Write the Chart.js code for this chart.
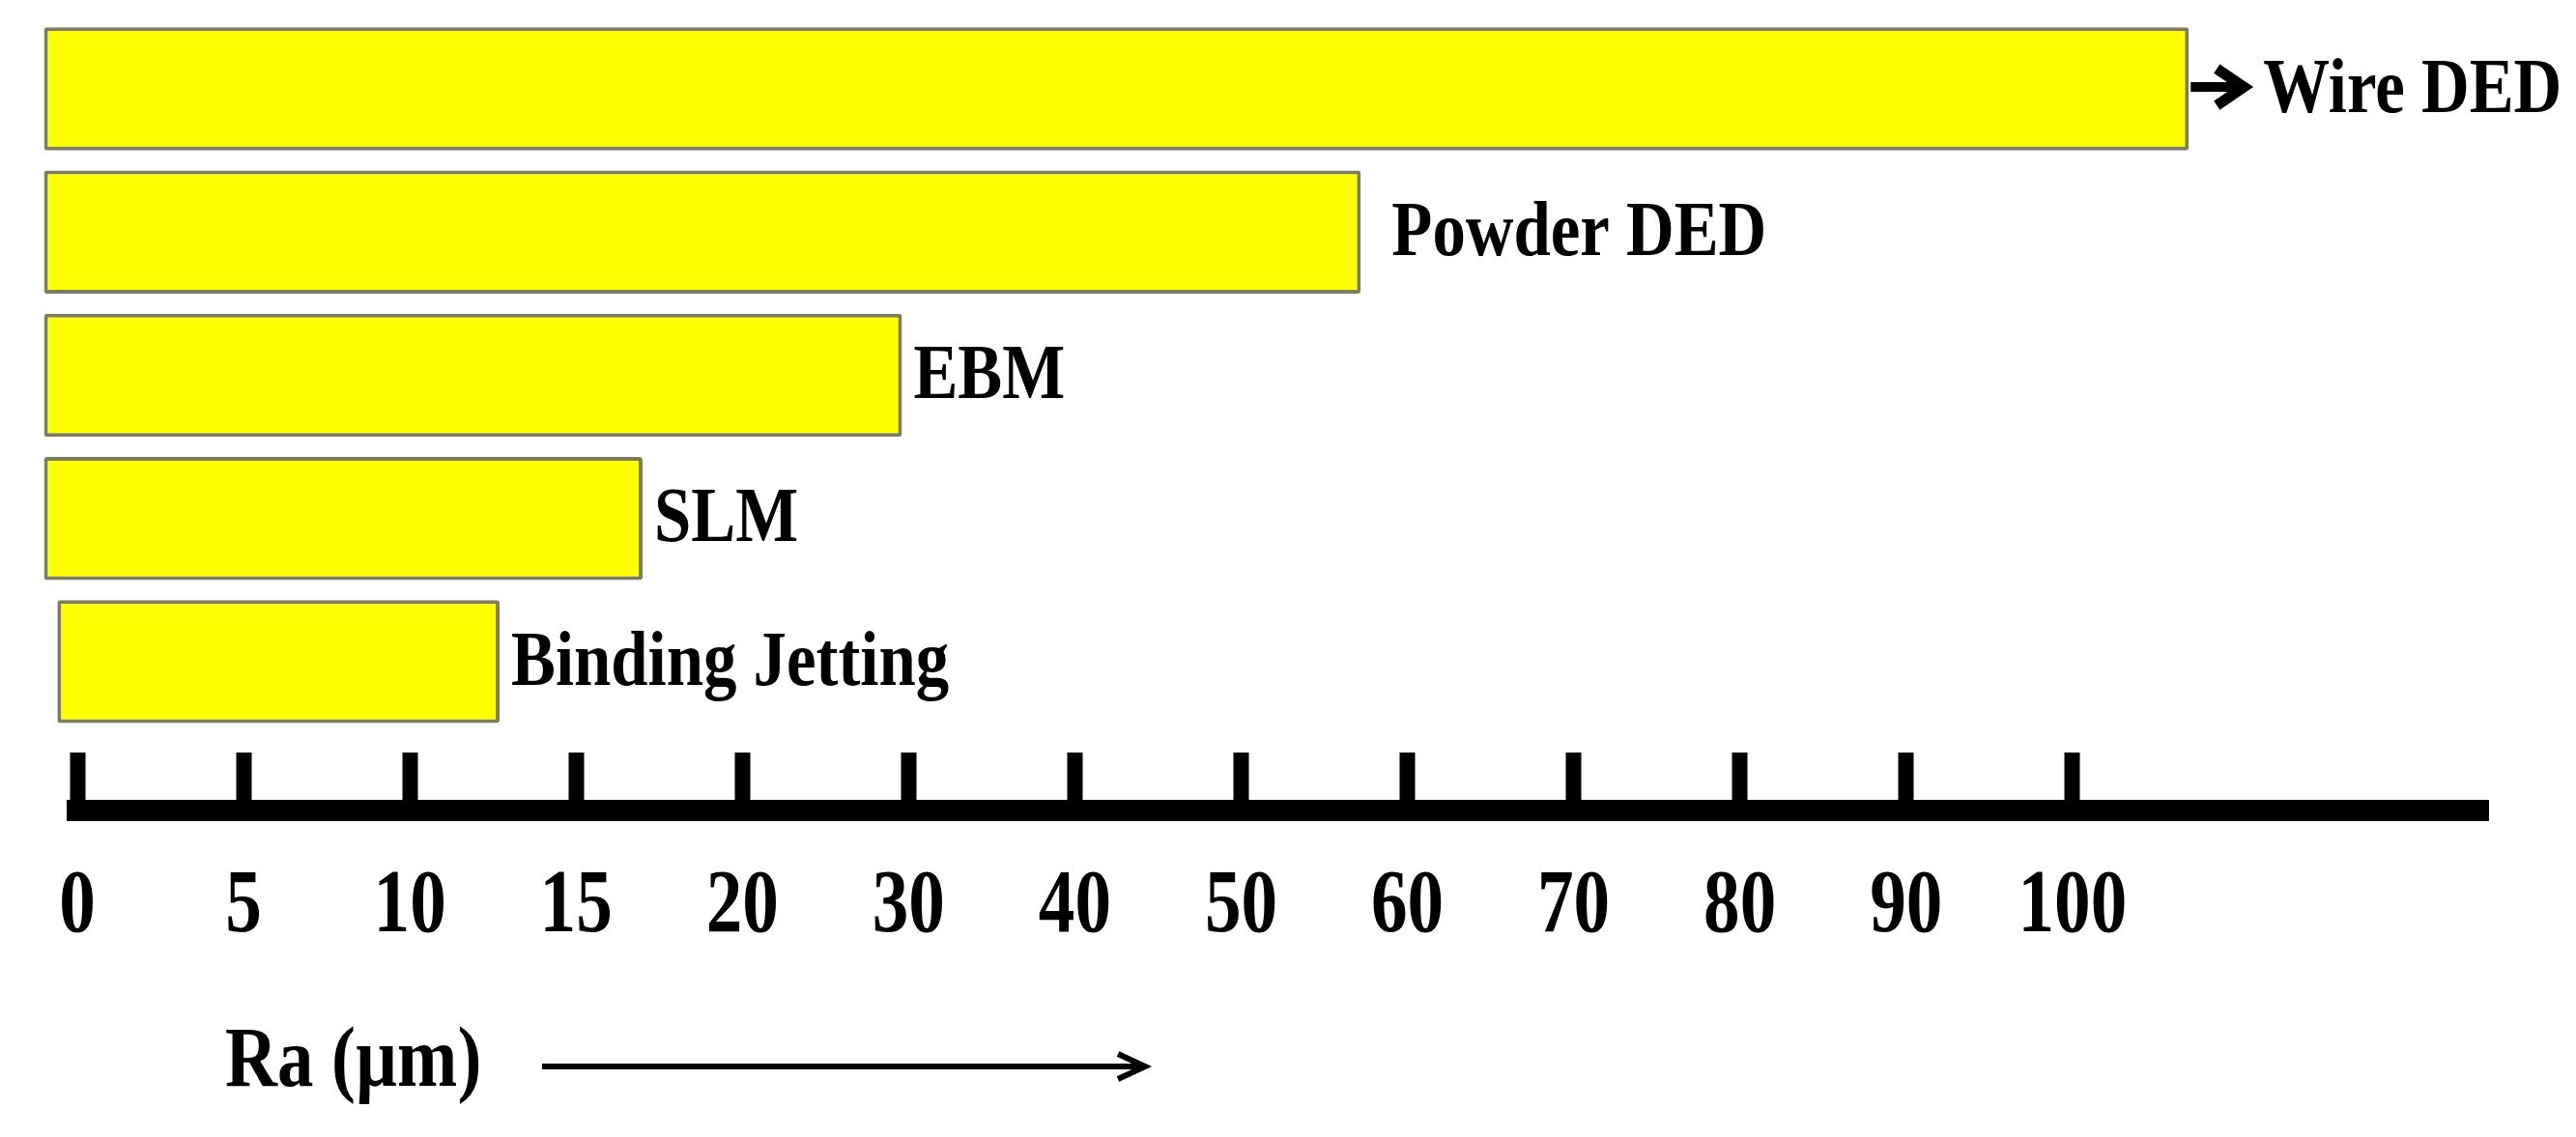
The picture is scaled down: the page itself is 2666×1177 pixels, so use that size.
<!DOCTYPE html>
<html>
<head>
<meta charset="utf-8">
<title>Surface roughness Ra by AM process</title>
<script src="https://cdn.jsdelivr.net/npm/chart.js@4.4.1/dist/chart.umd.min.js"></script>
<style>
  html, body { margin: 0; padding: 0; background: #fff; }
  #wrap { width: 2666px; height: 1177px; position: relative; }
</style>
</head>
<body>
<div id="wrap"><canvas id="raChart"></canvas></div>
<script>
const processes = ['Wire DED', 'Powder DED', 'EBM', 'SLM', 'Binding Jetting'];
const raStart = [-1, -1, -1, -1, -0.6];
const raEnd = [107, 57.2, 29.6, 17, 12.7];
const axisTicks = [0, 5, 10, 15, 20, 30, 40, 50, 60, 70, 80, 90, 100];
const axisTitle = 'Ra (µm)';

const serif = '"Liberation Serif", "Times New Roman", Times, serif';

// the axis isn't linear: each tick gets the same width, so map a value to its tick slot
function toSlot(v) {
  const n = axisTicks.length;
  if (v <= axisTicks[0]) return (v - axisTicks[0]) / (axisTicks[1] - axisTicks[0]);
  for (let i = 1; i < n; i++) {
    if (v <= axisTicks[i]) return i - 1 + (v - axisTicks[i - 1]) / (axisTicks[i] - axisTicks[i - 1]);
  }
  return n - 1 + (v - axisTicks[n - 1]) / (axisTicks[n - 1] - axisTicks[n - 2]);
}

function fromSlot(s) {
  const n = axisTicks.length;
  if (s <= 0) return axisTicks[0] + s * (axisTicks[1] - axisTicks[0]);
  if (s >= n - 1) return axisTicks[n - 1] + (s - n + 1) * (axisTicks[n - 1] - axisTicks[n - 2]);
  const i = Math.floor(s);
  return axisTicks[i] + (s - i) * (axisTicks[i + 1] - axisTicks[i]);
}

class SegmentScale extends Chart.LinearScale {
  buildTicks() {
    return axisTicks.map(value => ({ value }));
  }
  getPixelForValue(value) {
    if (value === null || isNaN(value)) return NaN;
    const a = toSlot(this.min), b = toSlot(this.max);
    return this.getPixelForDecimal((toSlot(value) - a) / (b - a));
  }
  getValueForPixel(pixel) {
    const a = toSlot(this.min), b = toSlot(this.max);
    return fromSlot(a + this.getDecimalForPixel(pixel) * (b - a));
  }
}
SegmentScale.id = 'segment';
SegmentScale.defaults = Chart.LinearScale.defaults;
Chart.register(SegmentScale);

// the text in the source is a narrow bold serif, so squeeze Liberation Serif a bit
function narrowText(ctx, text, x, y, size, squeeze) {
  ctx.save();
  ctx.font = 'bold ' + size + 'px ' + serif;
  ctx.translate(x, y);
  ctx.scale(squeeze, 1);
  ctx.fillText(text, 0, 0);
  ctx.restore();
}

// process names written at the end of each bar
const barLabels = {
  id: 'barLabels',
  afterDatasetsDraw(chart) {
    const ctx = chart.ctx;
    const meta = chart.getDatasetMeta(0);
    const gaps = [0, 32, 12, 12, 12];
    ctx.save();
    ctx.fillStyle = '#000';
    ctx.textBaseline = 'middle';
    ctx.textAlign = 'left';
    meta.data.forEach((bar, i) => {
      let x = bar.x + gaps[i];
      if (i === 0) {
        const tip = bar.x + 63;
        const ay = bar.y - 2;
        ctx.strokeStyle = '#000';
        ctx.lineWidth = 10;
        ctx.beginPath();
        ctx.moveTo(bar.x + 2, ay);
        ctx.lineTo(tip - 8, ay);
        ctx.stroke();
        ctx.lineWidth = 11;
        ctx.lineJoin = 'miter';
        ctx.beginPath();
        ctx.moveTo(tip - 34, ay - 19);
        ctx.lineTo(tip - 6, ay);
        ctx.lineTo(tip - 34, ay + 19);
        ctx.stroke();
        x = bar.x + 77;
      }
      narrowText(ctx, processes[i], x, bar.y + 3, 80, 0.86);
    });
    ctx.restore();
  }
};

// tick numbers and the "Ra (µm) ----->" caption under the axis
const axisText = {
  id: 'axisText',
  afterDraw(chart) {
    const ctx = chart.ctx;
    const xs = chart.scales.x;
    const base = chart.chartArea.bottom;
    ctx.save();
    ctx.fillStyle = '#000';
    ctx.textBaseline = 'middle';
    ctx.textAlign = 'center';
    axisTicks.forEach(v => {
      narrowText(ctx, String(v), xs.getPixelForValue(v), base + 101, 94, 0.8);
    });
    ctx.textAlign = 'left';
    const y = base + 262;
    narrowText(ctx, axisTitle, xs.left + 153, y, 88, 0.85);
    const x0 = xs.left + 481, x1 = xs.left + 1105;
    ctx.strokeStyle = '#000';
    ctx.lineWidth = 6;
    ctx.beginPath();
    ctx.moveTo(x0, y + 3);
    ctx.lineTo(x1, y + 3);
    ctx.moveTo(x1 - 28, y - 10);
    ctx.lineTo(x1, y + 3);
    ctx.lineTo(x1 - 28, y + 16);
    ctx.stroke();
    ctx.restore();
  }
};

const ctx = document.getElementById('raChart').getContext('2d');
new Chart(ctx, {
  type: 'bar',
  data: {
    datasets: [{
      data: processes.map((p, i) => ({ x: [raStart[i], raEnd[i]], y: i })),
      backgroundColor: '#ffff00',
      borderColor: '#7d7d5e',
      borderWidth: 4,
      borderSkipped: false,
      borderRadius: 3,
      barPercentage: 0.86,
      categoryPercentage: 1,
      clip: false
    }]
  },
  options: {
    indexAxis: 'y',
    responsive: true,
    maintainAspectRatio: false,
    animation: false,
    layout: { padding: { left: 80, right: 91, top: 18, bottom: 338 } },
    plugins: {
      legend: { display: false },
      tooltip: { enabled: false }
    },
    scales: {
      x: {
        type: 'segment',
        min: 0,
        max: 125,
        grid: {
          drawOnChartArea: false,
          drawTicks: true,
          tickLength: -60,
          tickWidth: 16,
          tickColor: '#000'
        },
        border: { display: true, color: '#000', width: 22 },
        ticks: { display: false },
        afterFit(scale) {
          // ticks point up into the plot and the numbers are drawn by axisText
          scale.height = 0;
          scale.paddingLeft = 0;
          scale.paddingRight = 0;
        }
      },
      y: {
        type: 'linear',
        min: -0.5,
        max: 5.04,
        offset: false,
        reverse: true,
        display: false,
        afterBuildTicks(scale) {
          scale.ticks = processes.map((p, i) => ({ value: i }));
        }
      }
    }
  },
  plugins: [barLabels, axisText]
});
</script>
</body>
</html>
